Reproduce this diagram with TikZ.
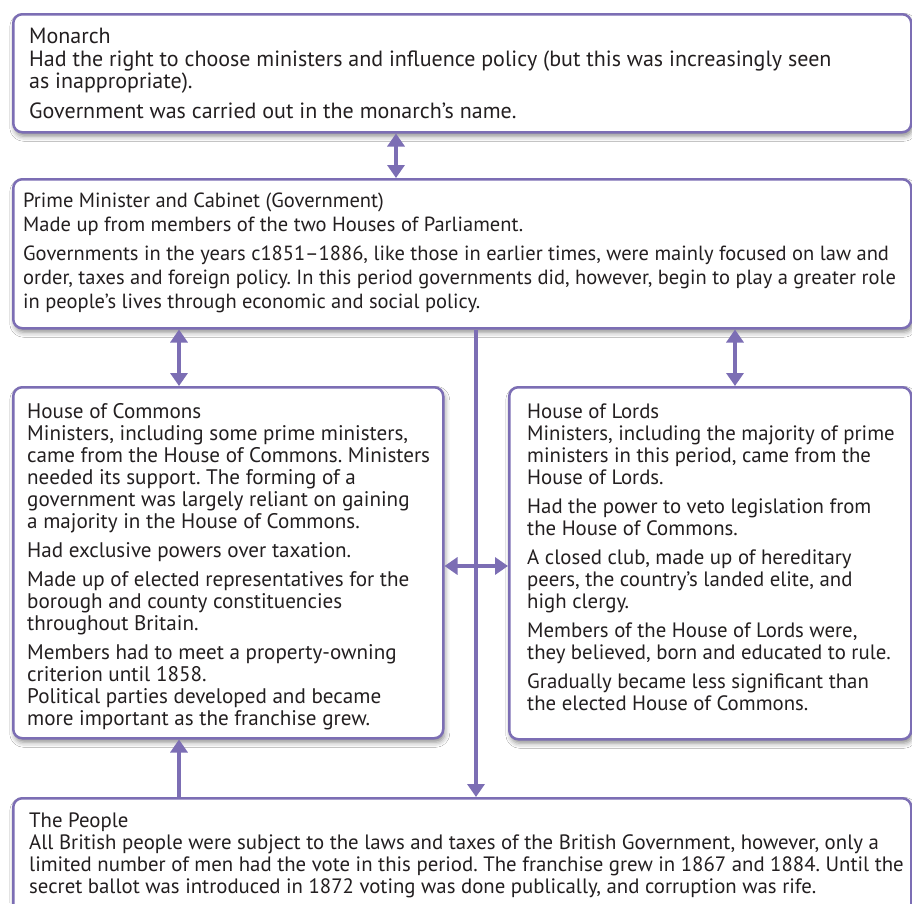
\documentclass[tikz,border=0pt]{standalone}
\usepackage{fontspec}
\setmainfont{PT Sans}
\usetikzlibrary{arrows.meta,shadows.blur}
\definecolor{pur}{RGB}{124,110,180}
\definecolor{ink}{RGB}{35,31,32}
\tikzset{
  box/.style={draw=pur, line width=2.5pt, rounded corners=9pt, fill=white,
    blur shadow={shadow xshift=1.5pt, shadow yshift=-4pt, shadow blur radius=5pt, shadow opacity=45},
    anchor=north west, inner sep=0pt},
  txt/.style={anchor=north west, align=left, inner sep=0pt, text=ink, font=\fontsize{20.8}{22}\selectfont},
  conn/.style={draw=pur, line width=4pt},
  tip/.tip={Triangle[width=17pt,length=13pt]},
  dbl/.style={conn, tip-tip},
  one/.style={conn, -tip}
}
\frenchspacing
\begin{document}
\begin{tikzpicture}[x=1pt,y=-1pt]
\useasboundingbox (0,0) rectangle (912,903);
\fill[white] (0,0) rectangle (912,903);
% boxes
\node[box, minimum width=898pt, minimum height=118pt] (mon) at (12,13) {};
\node[box, minimum width=898pt, minimum height=149pt] (pm) at (12,178) {};
\node[box, minimum width=430pt, minimum height=351pt] (com) at (12,386) {};
\node[box, minimum width=402pt, minimum height=352pt] (lor) at (508,386) {};
\node[box, minimum width=898pt, minimum height=140pt] (peo) at (12,797) {};
% texts
\node[txt, font=\fontsize{22}{22.5}\selectfont] (tmon) at (29,28) {Monarch\\
Had the right to choose ministers and influence policy (but this was increasingly seen\\
as inappropriate).\\[7.5pt]
Government was carried out in the monarch’s name.};
\node[txt, font=\fontsize{20.5}{24}\selectfont] (tpm) at (23,193) {Prime Minister and Cabinet (Government)\\
Made up from members of the two Houses of Parliament.\\[5pt]
Governments in the years c1851–1886, like those in earlier times, were mainly focused on law and\\
order, taxes and foreign policy. In this period governments did, however, begin to play a greater role\\
in people’s lives through economic and social policy.};
\node[txt, font=\fontsize{21.1}{22}\selectfont] (tcom) at (27,403) {House of Commons\\
Ministers, including some prime ministers,\\
came from the House of Commons. Ministers\\
needed its support. The forming of a\\
government was largely reliant on gaining\\
a majority in the House of Commons.\\[7pt]
Had exclusive powers over taxation.\\[7pt]
Made up of elected representatives for the\\
borough and county constituencies\\
throughout Britain.\\[7pt]
Members had to meet a property-owning\\
criterion until 1858.\\
Political parties developed and became\\
more important as the franchise grew.};
\node[txt] (tlor) at (527,404) {House of Lords\\
Ministers, including the majority of prime\\
ministers in this period, came from the\\
House of Lords.\\[7pt]
Had the power to veto legislation from\\
the House of Commons.\\[7pt]
A closed club, made up of hereditary\\
peers, the country’s landed elite, and\\
high clergy.\\[7pt]
Members of the House of Lords were,\\
they believed, born and educated to rule.\\[7pt]
Gradually became less significant than\\
the elected House of Commons.};
\node[txt] (tpeo) at (29,813) {The People\\
All British people were subject to the laws and taxes of the British Government, however, only a\\
limited number of men had the vote in this period. The franchise grew in 1867 and 1884. Until the\\
secret ballot was introduced in 1872 voting was done publically, and corruption was rife.};
% connectors
\coordinate (xa) at (396,0);
\coordinate (xb) at (179,0);
\coordinate (xc) at (735,0);
\coordinate (xd) at (476,0);
\coordinate (yh) at (0,566);
\draw[dbl] (mon.south -| xa) -- (pm.north -| xa);
\draw[dbl] (pm.south -| xb) -- (com.north -| xb);
\draw[dbl] (pm.south -| xc) -- (lor.north -| xc);
\draw[one] (pm.south -| xd) -- (peo.north -| xd);
\draw[dbl] (com.east |- yh) -- (lor.west |- yh);
\draw[one] (peo.north -| xb) -- (com.south -| xb);
\end{tikzpicture}
\end{document}
